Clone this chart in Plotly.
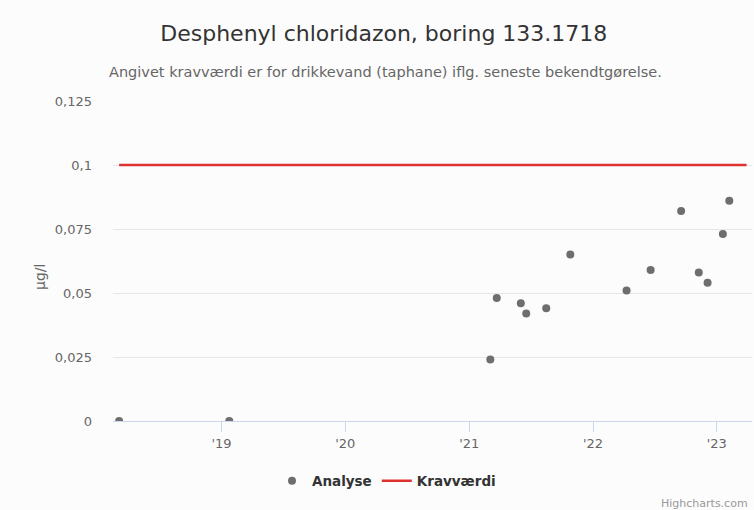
import plotly.graph_objects as go

# Data
analyse_dates = ["2018-03-05", "2019-01-24", "2021-03-04", "2021-03-23", "2021-06-02",
                 "2021-06-18", "2021-08-16", "2021-10-26", "2022-04-10", "2022-06-20",
                 "2022-09-18", "2022-11-09", "2022-12-05", "2023-01-19", "2023-02-07"]
analyse_values = [0, 0, 0.024, 0.048, 0.046, 0.042, 0.044, 0.065, 0.051, 0.059,
                  0.082, 0.058, 0.054, 0.073, 0.086]

krav_dates = ["2018-03-05", "2023-03-30"]
krav_values = [0.1, 0.1]

x_tick_vals = ["2019-01-01", "2020-01-01", "2021-01-01", "2022-01-01", "2023-01-01"]
x_tick_text = ["'19", "'20", "'21", "'22", "'23"]
y_tick_vals = [0, 0.025, 0.05, 0.075, 0.1, 0.125]
y_tick_text = ["0", "0,025", "0,05", "0,075", "0,1", "0,125"]

FONT = "DejaVu Sans"
BG = "#fcfcfc"

fig = go.Figure()
fig.add_trace(go.Scatter(
    x=analyse_dates, y=analyse_values, mode="markers", name="Analyse",
    marker=dict(color="#6e6e6e", size=8, line=dict(width=0)),
))
fig.add_trace(go.Scatter(
    x=krav_dates, y=krav_values, mode="lines", name="Kravværdi",
    line=dict(color="#e03131", width=2.5),
))

fig.update_layout(
    width=754, height=510,
    paper_bgcolor=BG, plot_bgcolor=BG,
    margin=dict(l=113, r=2, t=101, b=89, autoexpand=False),
    font=dict(family=FONT, color="#333333"),
    title=dict(text="Desphenyl chloridazon, boring 133.1718",
               x=0.509, xanchor="center", y=0.935, yanchor="middle",
               font=dict(size=22, color="#333333", family=FONT)),
    showlegend=True,
    legend=dict(orientation="h", x=0.428, xanchor="center", y=-0.1875, yanchor="middle",
                font=dict(size=13.5, color="#333333", family=FONT, weight="bold"),
                bgcolor="rgba(0,0,0,0)"),
    xaxis=dict(
        type="date", range=["2018-02-15", "2023-04-15"],
        tickvals=x_tick_vals, ticktext=x_tick_text,
        ticks="outside", ticklen=10, tickcolor="#ccd6eb", tickwidth=1,
        showline=True, linecolor="#ccd6eb", linewidth=1,
        showgrid=False, zeroline=False,
        tickfont=dict(size=13, color="#666666", family=FONT),
    ),
    yaxis=dict(
        range=[0, 0.125], tickvals=y_tick_vals, ticktext=y_tick_text,
        showgrid=True, gridcolor="#e6e6e6", gridwidth=1, zeroline=False,
        ticks="", tickfont=dict(size=13, color="#666666", family=FONT),
        ticklabelstandoff=20,
    ),
    annotations=[
        dict(text="Angivet kravværdi er for drikkevand (taphane) iflg. seneste bekendtgørelse.",
             xref="paper", yref="paper", x=0.426, y=1.0, yshift=29,
             xanchor="center", yanchor="middle", showarrow=False,
             font=dict(size=14.5, color="#666666", family=FONT)),
        dict(text="µg/l", xref="paper", yref="paper", x=0, y=0.45, xshift=-73,
             textangle=-90, xanchor="center", yanchor="middle", showarrow=False,
             font=dict(size=14, color="#666666", family=FONT)),
        dict(text="Highcharts.com", xref="paper", yref="paper", x=1, y=0,
             yshift=-82, xshift=-2, xanchor="right", yanchor="middle", showarrow=False,
             font=dict(size=11, color="#999999", family=FONT)),
    ],
)

fig.write_html("out.html", config={"displayModeBar": False},
               post_script="document.body.style.margin='0px';")
